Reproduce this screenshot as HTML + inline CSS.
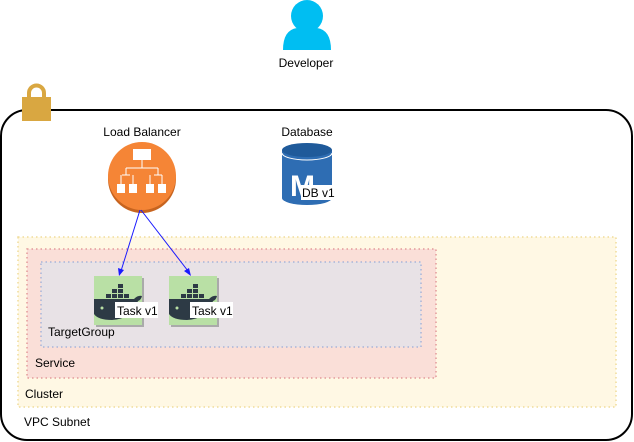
<!DOCTYPE html>
<html><head><meta charset="utf-8"><style>
html,body{margin:0;padding:0;background:#fff;}
svg{display:block;font-family:"Liberation Sans",Helvetica,Arial,sans-serif;}
</style></head><body>
<svg width="634" height="442" viewBox="0 0 634 442" xmlns="http://www.w3.org/2000/svg">
<!-- VPC -->
<rect x="1" y="110" width="631" height="330" rx="26" ry="26" fill="#fff" stroke="#000" stroke-width="2"/>
<!-- lock -->
<path d="M29 98 v-5 a7.5 7.5 0 0 1 15 0 v5" fill="none" stroke="#d9a741" stroke-width="4"/>
<rect x="22" y="97" width="29" height="24" fill="#d9a741"/>
<!-- cluster -->
<rect x="18" y="237" width="598" height="170" fill="#fff8e4" stroke="#f0dc9a" stroke-width="1.5" stroke-dasharray="1.5 3"/>
<rect x="27" y="249" width="409" height="129" fill="#fadfd8" stroke="#e39a9a" stroke-width="1.5" stroke-dasharray="1.5 3"/>
<rect x="41" y="262" width="380" height="85" fill="#e8e2e6" stroke="#a8b4d8" stroke-width="1.5" stroke-dasharray="1.5 3"/>
<text x="25" y="398" font-size="12">Cluster</text>
<text x="24" y="426" font-size="12">VPC Subnet</text>
<text x="35" y="367" font-size="12">Service</text>
<text x="48" y="336" font-size="12">TargetGroup</text>
<!-- developer -->
<circle cx="307" cy="16" r="16" fill="#00bef2"/>
<path d="M283 50 q0 -20 14 -22 q10 6 20 0 q14 2 14 22 z" fill="#00bef2"/>
<text x="306" y="67" font-size="12" text-anchor="middle">Developer</text>
<!-- load balancer -->
<text x="142" y="136" font-size="12" text-anchor="middle">Load Balancer</text>
<circle cx="142" cy="179" r="34" fill="#c7641f"/>
<circle cx="142" cy="176" r="34" fill="#f58536"/>
<g fill="#fff" stroke="#fff">
<rect x="133" y="149" width="18" height="11" stroke="none"/>
<line x1="142" y1="160" x2="142" y2="168"/>
<line x1="126" y1="168" x2="158" y2="168"/>
<line x1="126" y1="168" x2="126" y2="175"/><line x1="158" y1="168" x2="158" y2="175"/>
<line x1="122" y1="175" x2="130" y2="175"/><line x1="154" y1="175" x2="162" y2="175"/>
<rect x="117" y="184" width="8" height="9" stroke="none"/><rect x="129" y="184" width="8" height="9" stroke="none"/>
<rect x="146" y="184" width="8" height="9" stroke="none"/><rect x="158" y="184" width="8" height="9" stroke="none"/>
<line x1="121" y1="175" x2="121" y2="184"/><line x1="133" y1="175" x2="133" y2="184"/>
<line x1="150" y1="175" x2="150" y2="184"/><line x1="162" y1="175" x2="162" y2="184"/>
</g>
<!-- database -->
<text x="307" y="136" font-size="12" text-anchor="middle">Database</text>
<path d="M282 150 v48 a25 7 0 0 0 50 0 v-48 z" fill="#2e6db3"/>
<ellipse cx="307" cy="150" rx="25" ry="7" fill="#1f5a9a"/>
<path d="M282 153 a25 7 0 0 0 50 0" fill="none" stroke="#fff" stroke-width="1"/>
<text x="290" y="196" font-size="30" font-weight="bold" fill="#fff">M</text>
<rect x="301" y="185" width="31" height="15" fill="#fff"/>
<text x="302" y="197" font-size="12">DB v1</text>
<!-- arrows -->
<g stroke="#1a1aff" fill="#1a1aff">
<line x1="140" y1="210" x2="121" y2="271"/>
<line x1="141" y1="210" x2="188" y2="271"/>
<path d="M119 276 l-1 -8 l6 2 z" stroke="none"/>
<path d="M191 276 l-7 -5 l5 -3 z" stroke="none"/>
</g>
<!-- tasks -->
<g>
<rect x="96" y="278" width="48" height="49" fill="#aaa"/>
<rect x="94" y="276" width="48" height="49" fill="#b9e0a5"/>
<g fill="#2d3a45">
<rect x="106" y="294" width="5" height="4"/><rect x="112" y="294" width="5" height="4"/><rect x="118" y="294" width="5" height="4"/><rect x="124" y="294" width="5" height="4"/>
<rect x="112" y="289" width="5" height="4"/><rect x="118" y="289" width="5" height="4"/><rect x="118" y="284" width="5" height="4"/>
<path d="M94 299 h40 q4 -4 8 -3 q-1 4 -4 5 q-6 18 -26 19 q-14 0 -18 -6 z"/>
</g>
<circle cx="102" cy="308" r="1.5" fill="#b9e0a5"/>
<rect x="115" y="302" width="43" height="16" fill="#fff"/>
<text x="117" y="315" font-size="12">Task v1</text>
</g>
<g transform="translate(75,0)">
<rect x="96" y="278" width="48" height="49" fill="#aaa"/>
<rect x="94" y="276" width="48" height="49" fill="#b9e0a5"/>
<g fill="#2d3a45">
<rect x="106" y="294" width="5" height="4"/><rect x="112" y="294" width="5" height="4"/><rect x="118" y="294" width="5" height="4"/><rect x="124" y="294" width="5" height="4"/>
<rect x="112" y="289" width="5" height="4"/><rect x="118" y="289" width="5" height="4"/><rect x="118" y="284" width="5" height="4"/>
<path d="M94 299 h40 q4 -4 8 -3 q-1 4 -4 5 q-6 18 -26 19 q-14 0 -18 -6 z"/>
</g>
<circle cx="102" cy="308" r="1.5" fill="#b9e0a5"/>
<rect x="115" y="302" width="43" height="16" fill="#fff"/>
<text x="117" y="315" font-size="12">Task v1</text>
</g>
</svg>
</body></html>
